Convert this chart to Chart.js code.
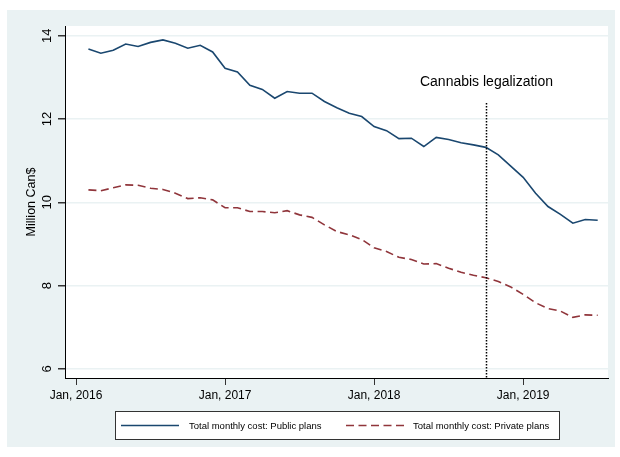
<!DOCTYPE html>
<html>
<head>
<meta charset="utf-8">
<script src="https://cdn.jsdelivr.net/npm/chart.js@4.4.0/dist/chart.umd.min.js"></script>
<style>
  html, body { margin: 0; padding: 0; background: #fff; }
  canvas { display: block; }
</style>
</head>
<body>
<canvas id="chart" width="620" height="457"></canvas>
<script>
// Monthly series, Feb 2016 .. Jul 2019
const months = [
  "2016-02","2016-03","2016-04","2016-05","2016-06","2016-07","2016-08","2016-09","2016-10","2016-11","2016-12",
  "2017-01","2017-02","2017-03","2017-04","2017-05","2017-06","2017-07","2017-08","2017-09","2017-10","2017-11","2017-12",
  "2018-01","2018-02","2018-03","2018-04","2018-05","2018-06","2018-07","2018-08","2018-09","2018-10","2018-11","2018-12",
  "2019-01","2019-02","2019-03","2019-04","2019-05","2019-06","2019-07"
];
const publicPlans = [
  13.68,13.58,13.65,13.80,13.74,13.84,13.90,13.82,13.70,13.77,13.61,
  13.22,13.13,12.81,12.71,12.50,12.66,12.62,12.62,12.42,12.27,12.14,12.06,
  11.82,11.72,11.53,11.54,11.34,11.56,11.51,11.43,11.38,11.32,11.14,10.87,
  10.60,10.22,9.90,9.71,9.50,9.59,9.57
];
const privatePlans = [
  10.30,10.28,10.35,10.42,10.41,10.34,10.31,10.22,10.09,10.11,10.06,
  9.87,9.87,9.78,9.78,9.75,9.80,9.70,9.64,9.46,9.30,9.22,9.11,
  8.91,8.82,8.68,8.63,8.52,8.53,8.42,8.32,8.25,8.19,8.10,7.97,
  7.79,7.59,7.45,7.39,7.24,7.30,7.29
];
const seriesNames = ["Total monthly cost: Public plans", "Total monthly cost: Private plans"];
const xTickMonths = ["2016-01", "2017-01", "2018-01", "2019-01"];
const xTickLabels = ["Jan, 2016", "Jan, 2017", "Jan, 2018", "Jan, 2019"];
const yTicks = [6, 8, 10, 12, 14];
const eventMonth = "2018-10";
const eventLabel = "Cannabis legalization";

const FONT = "'Liberation Sans', Arial, Helvetica, sans-serif";
const BLUE = "#1a476f", RED = "#90353b", BG = "#eaf2f3";

// months since Jan 2016
function monthIndex(s) {
  const [y, m] = s.split("-").map(Number);
  return (y - 2016) * 12 + (m - 1);
}

const toPoints = vals => vals.map((v, i) => ({ x: monthIndex(months[i]), y: v }));

// Stata-like backdrop + white plot region
const backdrop = {
  id: "backdrop",
  beforeDraw(chart) {
    const { ctx, chartArea: a } = chart;
    ctx.save();
    ctx.fillStyle = "#fff";
    ctx.fillRect(0, 0, chart.width, chart.height);
    ctx.fillStyle = BG;
    ctx.fillRect(7, 10, 608, 437);
    ctx.fillStyle = "#fff";
    ctx.fillRect(a.left, a.top, a.right - a.left, a.bottom - a.top);
    ctx.restore();
  }
};

// vertical event line and its label
const eventLine = {
  id: "eventLine",
  afterDatasetsDraw(chart) {
    const { ctx, chartArea: a, scales: { x } } = chart;
    const px = Math.round(x.getPixelForValue(monthIndex(eventMonth))) + 0.5;
    ctx.save();
    ctx.strokeStyle = "#000";
    ctx.lineWidth = 1.5;
    ctx.setLineDash([1.5, 1.5]);
    ctx.beginPath();
    ctx.moveTo(px, 103);
    ctx.lineTo(px, a.bottom);
    ctx.stroke();
    ctx.setLineDash([]);
    ctx.fillStyle = "#000";
    ctx.font = "14px " + FONT;
    ctx.textAlign = "center";
    ctx.textBaseline = "middle";
    ctx.fillText(eventLabel, px, 82);
    ctx.restore();
  }
};

// boxed legend under the plot
const boxLegend = {
  id: "boxLegend",
  afterDraw(chart) {
    const { ctx } = chart;
    const ds = chart.data.datasets;
    const items = [{ x0: 121, x1: 179, tx: 189 }, { x0: 346, x1: 404, tx: 413 }];
    ctx.save();
    ctx.fillStyle = "#fff";
    ctx.fillRect(115, 411, 444, 28);
    ctx.strokeStyle = "#333";
    ctx.lineWidth = 1;
    ctx.strokeRect(115.5, 411.5, 444, 28);
    ctx.font = "9.5px " + FONT;
    ctx.textBaseline = "middle";
    ctx.textAlign = "left";
    items.forEach((it, i) => {
      ctx.strokeStyle = ds[i].borderColor;
      ctx.lineWidth = ds[i].borderWidth;
      ctx.setLineDash(ds[i].borderDash || []);
      ctx.beginPath();
      ctx.moveTo(it.x0, 425.5);
      ctx.lineTo(it.x1, 425.5);
      ctx.stroke();
      ctx.fillStyle = "#000";
      ctx.fillText(ds[i].label, it.tx, 426);
    });
    ctx.restore();
  }
};

new Chart(document.getElementById("chart"), {
  type: "line",
  data: {
    datasets: [
      {
        label: seriesNames[0],
        data: toPoints(publicPlans),
        borderColor: BLUE,
        borderWidth: 1.6,
        pointRadius: 0,
        tension: 0
      },
      {
        label: seriesNames[1],
        data: toPoints(privatePlans),
        borderColor: RED,
        borderWidth: 1.6,
        borderDash: [8, 4.5],
        pointRadius: 0,
        tension: 0
      }
    ]
  },
  options: {
    responsive: false,
    animation: false,
    devicePixelRatio: 1,
    layout: { padding: { left: 0, right: 12, top: 26, bottom: 49 } },
    plugins: { legend: { display: false }, tooltip: { enabled: false } },
    scales: {
      x: {
        type: "linear",
        min: -0.886,
        max: 42.83,
        afterBuildTicks: s => { s.ticks = xTickMonths.map(m => ({ value: monthIndex(m) })); },
        afterFit: s => { s.height = 30; },
        grid: { drawOnChartArea: false, tickLength: 7, tickColor: "#333", lineWidth: 1 },
        border: { color: "#000", width: 1 },
        ticks: {
          padding: 3,
          color: "#000",
          font: { family: FONT, size: 12 },
          maxRotation: 0,
          callback: v => xTickLabels[xTickMonths.map(monthIndex).indexOf(v)]
        }
      },
      y: {
        min: 5.784,
        max: 14.233,
        afterBuildTicks: s => { s.ticks = yTicks.map(v => ({ value: v })); },
        afterFit: s => { s.width = 65; },
        grid: { color: BG, lineWidth: 1.5, tickLength: 7, tickColor: "#333" },
        border: { color: "#000", width: 1 },
        ticks: {
          padding: 3,
          color: "#000",
          crossAlign: "center",
          minRotation: 90,
          maxRotation: 90,
          font: { family: FONT, size: 13 }
        },
        title: {
          display: true,
          text: "Million Can$",
          color: "#000",
          font: { family: FONT, size: 12.5 },
          padding: { top: 24, bottom: 0 }
        }
      }
    }
  },
  plugins: [backdrop, eventLine, boxLegend]
});
</script>
</body>
</html>
